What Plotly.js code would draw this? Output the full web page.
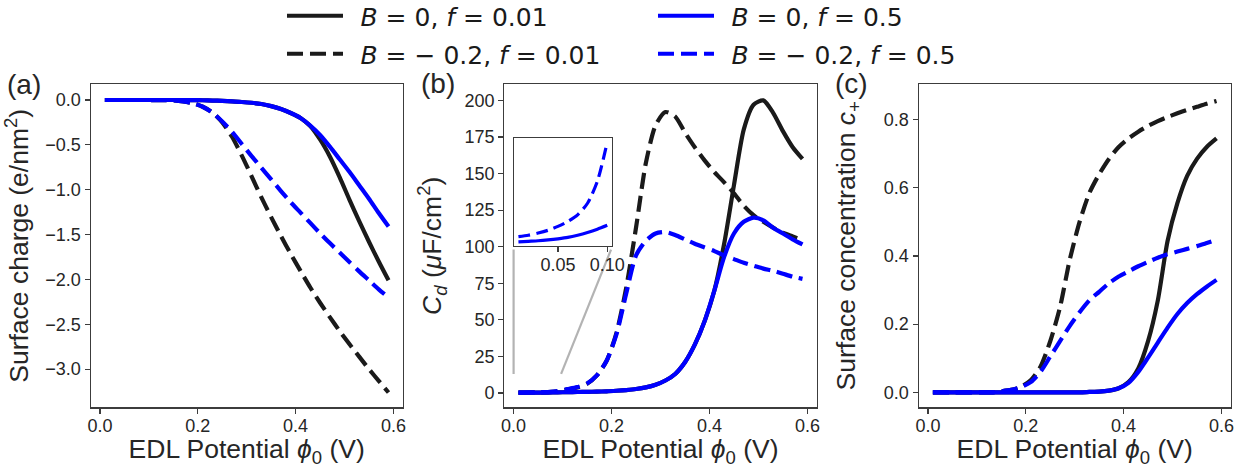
<!DOCTYPE html>
<html>
<head>
<meta charset="utf-8">
<script src="https://cdn.plot.ly/plotly-3.0.1.min.js"></script>
<style>
html,body{margin:0;padding:0;background:#fff;overflow:hidden;width:1245px;height:468px;}
#chart{position:absolute;left:0;top:-7px;width:1245px;height:475px;}
</style>
</head>
<body>
<div id="chart"></div>
<script>
// ---------- data ----------
const phi = [0.01,0.03,0.05,0.07,0.09,0.11,0.13,0.15,0.17,0.19,0.21,0.23,0.25,0.27,0.29,0.31,0.33,0.35,0.37,0.39,0.41,0.43,0.45,0.47,0.49,0.51,0.53,0.55,0.57,0.59];

const seriesNames = [
  "\u2002<i>B</i> = 0, <i>f</i> = 0.01",
  "\u2002<i>B</i> = \u2212 0.2, <i>f</i> = 0.01",
  "\u2002<i>B</i> = 0, <i>f</i> = 0.5",
  "\u2002<i>B</i> = \u2212 0.2, <i>f</i> = 0.5"
];

// (a) surface charge (e/nm^2)
const chargeB0f001  = [0,0,0,0,0,0,0,0,0,-0.001,-0.003,-0.006,-0.01,-0.016,-0.022,-0.031,-0.045,-0.068,-0.10,-0.145,-0.20,-0.29,-0.44,-0.63,-0.86,-1.11,-1.35,-1.58,-1.80,-2.01];
const chargeBm2f001 = [0,0,0,0,0,-0.001,-0.002,-0.005,-0.016,-0.036,-0.075,-0.14,-0.25,-0.41,-0.62,-0.85,-1.085,-1.305,-1.515,-1.715,-1.905,-2.09,-2.26,-2.42,-2.575,-2.72,-2.86,-3.00,-3.13,-3.26];
const chargeB0f05   = [0,0,0,0,0,0,0,0,0,-0.001,-0.003,-0.006,-0.01,-0.016,-0.022,-0.031,-0.045,-0.068,-0.10,-0.145,-0.20,-0.285,-0.39,-0.52,-0.66,-0.80,-0.95,-1.10,-1.26,-1.41];
const chargeBm2f05  = [0,0,0,0,0,-0.001,-0.002,-0.005,-0.016,-0.036,-0.075,-0.14,-0.24,-0.355,-0.49,-0.625,-0.755,-0.885,-1.015,-1.14,-1.255,-1.37,-1.485,-1.595,-1.70,-1.805,-1.91,-2.01,-2.11,-2.20];

// (b) differential capacitance Cd (uF/cm^2)
const cdB0f001  = [0.18,0.20,0.235,0.30,0.41,0.56,0.65,0.75,0.9,1.1,1.5,2.0,2.7,3.8,5.6,8.5,13,21,33,49,70,102,142,180,197,200,191.5,179,168,160];
const cdBm2f001 = [0.25,0.3,0.4,0.6,1.1,2.5,3.8,6.3,12,22,41,72,113,157,183,192,189,178,168,159,151,144,136.5,128,121.5,117,113,109.5,107,104.5];
const cdB0f05   = [0.18,0.20,0.235,0.30,0.41,0.56,0.65,0.75,0.9,1.1,1.5,2.0,2.7,3.8,5.6,8.5,13,21,33,49,70,93,109,117,119.8,118,113,109,105,101.5];
const cdBm2f05  = [0.275,0.34,0.46,0.67,1.28,2.6,4.0,6.5,12,22,40,68,94,104,109,110,108,105,102,99.5,97,94,91.5,89,87,85,83.5,81.5,79.5,78];

// (b) inset: low-potential detail of the f = 0.5 curves
const insetPhi      = [0.01,0.02,0.03,0.04,0.05,0.06,0.07,0.08,0.09,0.10];
const insetCdB0f05  = [0.18,0.19,0.20,0.215,0.235,0.26,0.30,0.35,0.41,0.48];
const insetCdBm2f05 = [0.275,0.30,0.34,0.39,0.46,0.55,0.67,0.88,1.28,1.99];
const insetTicks = [0.05, 0.10];

// (b) connector lines from the inset to the zoomed region
const connLeftX  = [0.0, 0.0];
const connLeftY  = [98, 13];
const connRightX = [0.199, 0.097];
const connRightY = [98, 13];

// (c) surface concentration c+
const concB0f001  = [0,0,0,0,0,0,0,0,0,0,0,0,0,0,0,0,0.001,0.002,0.005,0.012,0.03,0.07,0.15,0.27,0.445,0.555,0.635,0.685,0.72,0.745];
const concBm2f001 = [0,0,0,0,0,0,0,0.003,0.007,0.016,0.035,0.075,0.15,0.25,0.39,0.50,0.585,0.64,0.685,0.72,0.745,0.765,0.782,0.796,0.808,0.819,0.829,0.838,0.847,0.855];
const concB0f05   = [0,0,0,0,0,0,0,0,0,0,0,0,0,0,0,0,0.001,0.002,0.005,0.012,0.028,0.06,0.102,0.146,0.19,0.23,0.262,0.288,0.31,0.33];
const concBm2f05  = [0,0,0,0,0,0,0,0.003,0.007,0.015,0.03,0.06,0.105,0.15,0.195,0.235,0.27,0.295,0.32,0.34,0.355,0.37,0.383,0.395,0.405,0.413,0.421,0.429,0.438,0.447];

const xTicks = [0.0, 0.2, 0.4, 0.6];

// ---------- geometry helpers (figure is 475 px tall, shifted up 7 px) ----------
const FIG_W = 1245, FIG_H = 475, SHIFT = 7;
const fy = v => 1 - (v + SHIFT) / FIG_H;   // viewport px -> paper fraction
const fx = v => v / FIG_W;

// ---------- styles ----------
const BLACK = "#1a1a1a", BLUE = "#0000ff", GREY = "#b3b3b3", AX = "#3c3c3c";
const LW = 4.2;
const DASH = "16px,7px";
const styles = [
  {color: BLACK, dash: "solid"},
  {color: BLACK, dash: DASH},
  {color: BLUE,  dash: "solid"},
  {color: BLUE,  dash: DASH}
];
const legendOf = ["legend", "legend2", "legend", "legend2"];
const FONT = "Liberation Sans, Arial, sans-serif";

const panels = [
  {xa: "x",  ya: "y",  data: [chargeB0f001, chargeBm2f001, chargeB0f05, chargeBm2f05], legend: true},
  {xa: "x2", ya: "y2", data: [cdB0f001, cdBm2f001, cdB0f05, cdBm2f05], legend: false},
  {xa: "x3", ya: "y3", data: [concB0f001, concBm2f001, concB0f05, concBm2f05], legend: false}
];

const traces = [];
traces.push({x: connLeftX, y: connLeftY, xaxis: "x2", yaxis: "y2", mode: "lines",
  line: {color: GREY, width: 2.2}, showlegend: false, hoverinfo: "skip"});
traces.push({x: connRightX, y: connRightY, xaxis: "x2", yaxis: "y2", mode: "lines",
  line: {color: GREY, width: 2.2}, showlegend: false, hoverinfo: "skip"});

panels.forEach(p => {
  p.data.forEach((ys, i) => {
    traces.push({
      x: phi, y: ys, xaxis: p.xa, yaxis: p.ya, mode: "lines", type: "scatter",
      name: seriesNames[i],
      line: {color: styles[i].color, dash: styles[i].dash, width: LW, shape: "spline", smoothing: 0.7},
      showlegend: p.legend, legend: legendOf[i]
    });
  });
});
traces.push({x: insetPhi, y: insetCdB0f05, xaxis: "x4", yaxis: "y4", mode: "lines", name: seriesNames[2],
  line: {color: BLUE, width: 3.2, shape: "spline", smoothing: 0.7}, showlegend: false});
traces.push({x: insetPhi, y: insetCdBm2f05, xaxis: "x4", yaxis: "y4", mode: "lines", name: seriesNames[3],
  line: {color: BLUE, width: 3.2, dash: "12px,6px", shape: "spline", smoothing: 0.7}, showlegend: false});

const tickFont = {family: FONT, size: 18, color: "#262626"};
const titleFont = {family: FONT, size: 26.5, color: "#262626"};
const xTitle = "EDL Potential <i>\u03d5</i><sub>0</sub> (V)";
const YDOM = [fy(407.3), fy(84.3)];

function xaxis(dom, anchor) {
  return {domain: dom, anchor: anchor, range: [-0.019, 0.619], tickvals: xTicks, tickformat: ".1f",
    showline: true, mirror: true, linecolor: AX, linewidth: 1.2, ticks: "outside", ticklen: 5,
    tickwidth: 1.2, tickcolor: AX, showgrid: false, zeroline: false, tickfont: tickFont,
    ticklabelstandoff: -3,
    title: {text: xTitle, font: titleFont}};
}
function yaxis(anchor, range, dtick, fmt, title) {
  return {domain: YDOM, anchor: anchor, range: range, dtick: dtick, tickformat: fmt,
    showline: true, mirror: true, linecolor: AX, linewidth: 1.2, ticks: "outside", ticklen: 5,
    tickwidth: 1.2, tickcolor: AX, showgrid: false, zeroline: false, tickfont: tickFont,
    title: {text: title, font: titleFont}};
}

const legendFont = {family: "DejaVu Sans, sans-serif", size: 25, color: "#1a1a1a"};
const legendBase = {orientation: "h", x: 0.2265, xanchor: "left", yanchor: "top",
  font: legendFont, itemwidth: 56, entrywidth: 300, entrywidthmode: "pixels",
  bgcolor: "rgba(0,0,0,0)", traceorder: "normal"};
const labelFont = {family: FONT, size: 28, color: "#262626"};

const layout = {
  width: FIG_W, height: FIG_H,
  margin: {l: 0, r: 0, t: 0, b: 0},
  paper_bgcolor: "#fff", plot_bgcolor: "#fff",
  font: {family: FONT, color: "#262626"},
  showlegend: true,
  xaxis:  xaxis([fx(90.7), fx(402.7)], "y"),
  yaxis:  yaxis("x", [-3.425, 0.175], 0.5, ".1f", "Surface charge (e/nm<sup>2</sup>)"),
  xaxis2: xaxis([fx(504.3), fx(816.7)], "y2"),
  yaxis2: yaxis("x2", [-9.8, 211], 25, "d", "<i>C<sub>d</sub></i> (<i>\u03bc</i>F/cm<sup>2</sup>)"),
  xaxis3: xaxis([fx(918.7), fx(1230.7)], "y3"),
  yaxis3: yaxis("x3", [-0.044, 0.904], 0.2, ".1f", "Surface concentration <i>c</i><sub>+</sub>"),
  xaxis4: {domain: [fx(514), fx(611.7)], anchor: "y4", range: [0.0055, 0.1045], tickvals: insetTicks,
    tickformat: ".2f", showline: true, mirror: true, linecolor: AX, linewidth: 1.2, ticks: "outside",
    ticklen: 5, tickwidth: 1.2, tickcolor: AX, showgrid: false, zeroline: false, tickfont: tickFont,
    ticklabelstandoff: -3},
  yaxis4: {domain: [fy(245.7), fy(137.7)], anchor: "x4", range: [0.11, 2.07], showline: true, mirror: true,
    linecolor: AX, linewidth: 1.2, ticks: "", showticklabels: false, showgrid: false, zeroline: false},
  legend:  Object.assign({}, legendBase, {y: 1.0}),
  legend2: Object.assign({}, legendBase, {y: 1 - 38 / FIG_H}),
  annotations: [
    {text: "(a)", x: fx(24), y: fy(84), xref: "paper", yref: "paper", showarrow: false,
      xanchor: "center", yanchor: "middle", font: labelFont},
    {text: "(b)", x: fx(438), y: fy(83), xref: "paper", yref: "paper", showarrow: false,
      xanchor: "center", yanchor: "middle", font: labelFont},
    {text: "(c)", x: fx(851), y: fy(83), xref: "paper", yref: "paper", showarrow: false,
      xanchor: "center", yanchor: "middle", font: labelFont}
  ]
};

Plotly.newPlot("chart", traces, layout, {displayModeBar: false, staticPlot: true});
</script>
</body>
</html>
